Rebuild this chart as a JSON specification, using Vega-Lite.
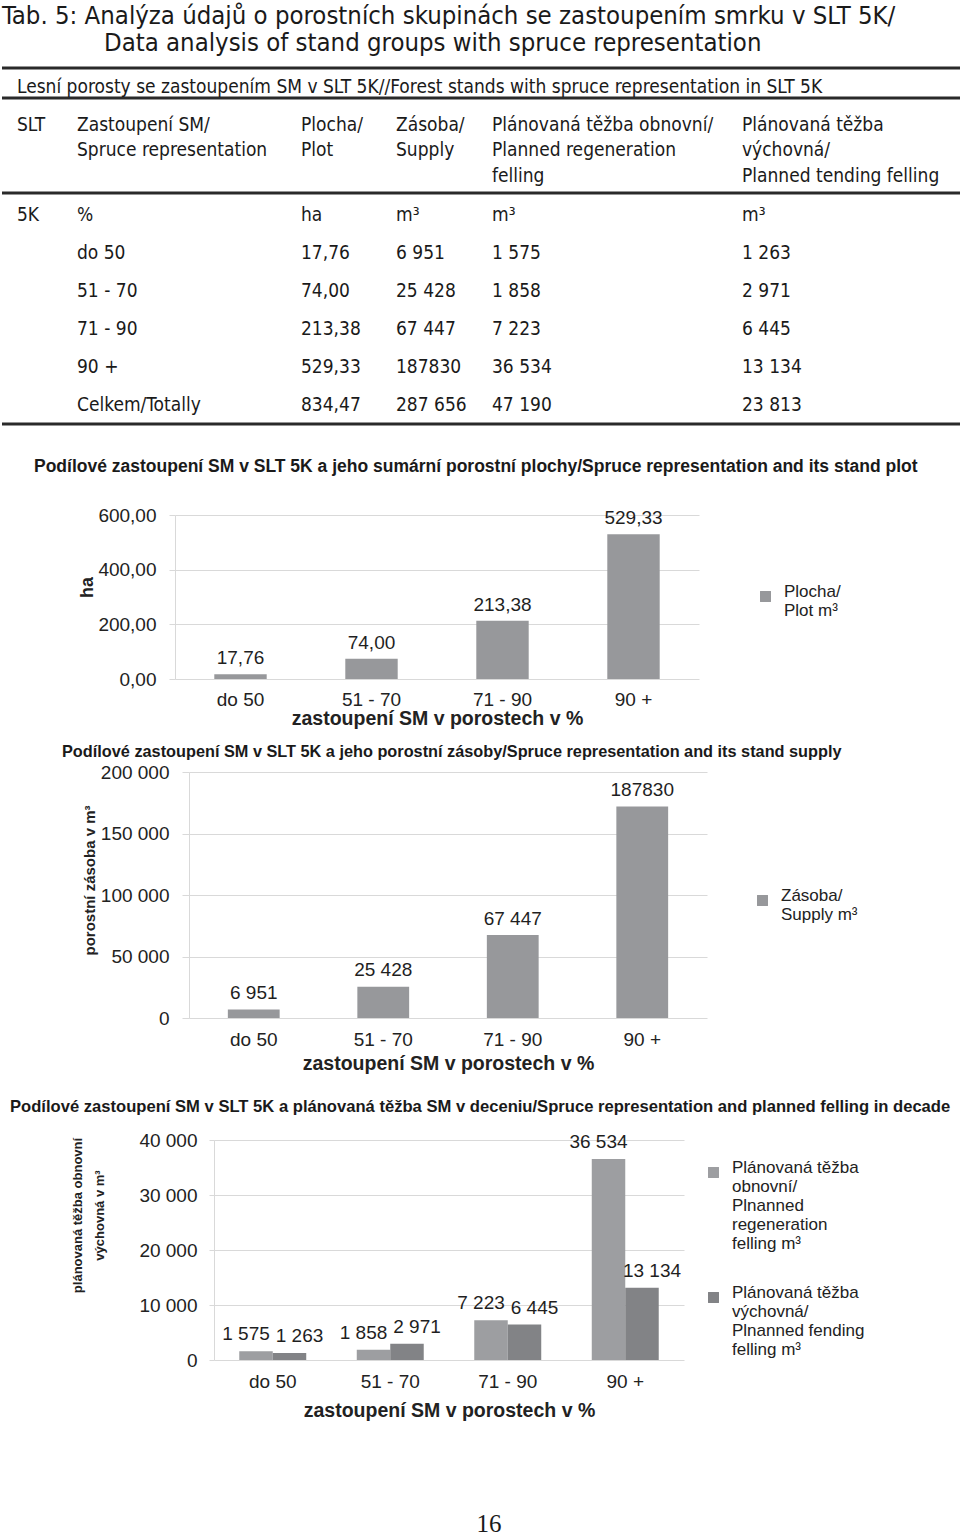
{
  "$schema": "https://vega.github.io/schema/vega-lite/v6.json",
  "padding": {"left": 0, "top": 0, "right": 0, "bottom": 0},
  "spacing": 0,
  "resolve": {"scale": {"color": "independent"}, "legend": {"color": "independent"}},
  "title": {"text": "16", "orient": "bottom", "anchor": "middle", "font": "Liberation Serif", "fontSize": 25, "fontWeight": "normal", "color": "#1a1a1a", "offset": 92, "dx": 7},
  "datasets": {
    "rules": [{"line": 3}, {"line": 5}, {"line": 9}, {"line": 16}],
    "pagetitle": [
      {"line": 1, "col": 0, "text": "Tab. 5: Analýza údajů o porostních skupinách se zastoupením smrku v SLT 5K/"},
      {"line": 2, "col": 2.5, "text": "Data analysis of stand groups with spruce representation"}
    ],
    "subtitle": [{"line": 4, "col": 1, "text": "Lesní porosty se zastoupením SM v SLT 5K//Forest stands with spruce representation in SLT 5K"}],
    "cells": [
      {"line": 6, "col": 1, "text": "SLT"},
      {"line": 6, "col": 2, "text": "Zastoupení SM/"},
      {"line": 6, "col": 3, "text": "Plocha/"},
      {"line": 6, "col": 4, "text": "Zásoba/"},
      {"line": 6, "col": 5, "text": "Plánovaná těžba obnovní/"},
      {"line": 6, "col": 6, "text": "Plánovaná těžba"},
      {"line": 7, "col": 2, "text": "Spruce representation"},
      {"line": 7, "col": 3, "text": "Plot"},
      {"line": 7, "col": 4, "text": "Supply"},
      {"line": 7, "col": 5, "text": "Planned regeneration"},
      {"line": 7, "col": 6, "text": "výchovná/"},
      {"line": 8, "col": 5, "text": "felling"},
      {"line": 8, "col": 6, "text": "Planned tending felling"},
      {"line": 10, "col": 1, "text": "5K"},
      {"line": 10, "col": 2, "text": "%"},
      {"line": 10, "col": 3, "text": "ha"},
      {"line": 10, "col": 4, "text": "m³"},
      {"line": 10, "col": 5, "text": "m³"},
      {"line": 10, "col": 6, "text": "m³"},
      {"line": 11, "col": 2, "text": "do 50"},
      {"line": 11, "col": 3, "text": "17,76"},
      {"line": 11, "col": 4, "text": "6 951"},
      {"line": 11, "col": 5, "text": "1 575"},
      {"line": 11, "col": 6, "text": "1 263"},
      {"line": 12, "col": 2, "text": "51 - 70"},
      {"line": 12, "col": 3, "text": "74,00"},
      {"line": 12, "col": 4, "text": "25 428"},
      {"line": 12, "col": 5, "text": "1 858"},
      {"line": 12, "col": 6, "text": "2 971"},
      {"line": 13, "col": 2, "text": "71 - 90"},
      {"line": 13, "col": 3, "text": "213,38"},
      {"line": 13, "col": 4, "text": "67 447"},
      {"line": 13, "col": 5, "text": "7 223"},
      {"line": 13, "col": 6, "text": "6 445"},
      {"line": 14, "col": 2, "text": "90 +"},
      {"line": 14, "col": 3, "text": "529,33"},
      {"line": 14, "col": 4, "text": "187830"},
      {"line": 14, "col": 5, "text": "36 534"},
      {"line": 14, "col": 6, "text": "13 134"},
      {"line": 15, "col": 2, "text": "Celkem/Totally"},
      {"line": 15, "col": 3, "text": "834,47"},
      {"line": 15, "col": 4, "text": "287 656"},
      {"line": 15, "col": 5, "text": "47 190"},
      {"line": 15, "col": 6, "text": "23 813"}
    ],
    "plot": [
      {"cat": "do 50", "value": 17.76, "label": "17,76", "series": "Plocha/|Plot m³"},
      {"cat": "51 - 70", "value": 74.0, "label": "74,00", "series": "Plocha/|Plot m³"},
      {"cat": "71 - 90", "value": 213.38, "label": "213,38", "series": "Plocha/|Plot m³"},
      {"cat": "90 +", "value": 529.33, "label": "529,33", "series": "Plocha/|Plot m³"}
    ],
    "supply": [
      {"cat": "do 50", "value": 6951, "label": "6 951", "series": "Zásoba/|Supply m³"},
      {"cat": "51 - 70", "value": 25428, "label": "25 428", "series": "Zásoba/|Supply m³"},
      {"cat": "71 - 90", "value": 67447, "label": "67 447", "series": "Zásoba/|Supply m³"},
      {"cat": "90 +", "value": 172000, "label": "187830", "series": "Zásoba/|Supply m³"}
    ],
    "felling": [
      {"cat": "do 50", "series": "Plánovaná těžba|obnovní/|Plnanned|regeneration|felling m³", "value": 1575, "label": "1 575"},
      {"cat": "do 50", "series": "Plánovaná těžba|výchovná/|Plnanned fending|felling m³", "value": 1263, "label": "1 263"},
      {"cat": "51 - 70", "series": "Plánovaná těžba|obnovní/|Plnanned|regeneration|felling m³", "value": 1858, "label": "1 858"},
      {"cat": "51 - 70", "series": "Plánovaná těžba|výchovná/|Plnanned fending|felling m³", "value": 2971, "label": "2 971"},
      {"cat": "71 - 90", "series": "Plánovaná těžba|obnovní/|Plnanned|regeneration|felling m³", "value": 7223, "label": "7 223"},
      {"cat": "71 - 90", "series": "Plánovaná těžba|výchovná/|Plnanned fending|felling m³", "value": 6445, "label": "6 445"},
      {"cat": "90 +", "series": "Plánovaná těžba|obnovní/|Plnanned|regeneration|felling m³", "value": 36534, "label": "36 534"},
      {"cat": "90 +", "series": "Plánovaná těžba|výchovná/|Plnanned fending|felling m³", "value": 13134, "label": "13 134"}
    ]
  },
  "vconcat": [
    {
      "width": 960,
      "height": 457,
      "encoding": {
        "y": {"field": "line", "type": "quantitative", "axis": null,
          "scale": {"domain": [1, 2, 3, 4, 5, 6, 7, 8, 9, 10, 11, 12, 13, 14, 15, 16], "range": [16, 43, 68, 87, 98, 125, 150, 176, 193, 215, 253, 291, 329, 367, 405, 424], "nice": false, "zero": false}}
      },
      "layer": [
        {
          "data": {"name": "rules"},
          "mark": {"type": "rule", "strokeWidth": 3, "color": "#2a2a2a"},
          "encoding": {}
        },
        {
          "data": {"name": "pagetitle"},
          "mark": {"type": "text", "align": "left", "baseline": "middle", "font": "DejaVu Sans Condensed, DejaVu Sans", "fontSize": 25.5, "color": "#1a1a1a"},
          "encoding": {
            "x": {"field": "col", "type": "quantitative", "axis": null, "scale": {"domain": [0, 1, 2, 2.5, 3, 4, 5, 6], "range": [0, 15, 75, 102, 299, 394, 490, 740], "nice": false, "zero": false}},
            "text": {"field": "text"}
          }
        },
        {
          "data": {"name": "subtitle"},
          "mark": {"type": "text", "align": "left", "baseline": "middle", "font": "DejaVu Sans Condensed, DejaVu Sans", "fontSize": 19, "color": "#1a1a1a"},
          "encoding": {
            "x": {"field": "col", "type": "quantitative", "axis": null},
            "text": {"field": "text"}
          }
        },
        {
          "data": {"name": "cells"},
          "mark": {"type": "text", "align": "left", "baseline": "middle", "font": "DejaVu Sans Condensed, DejaVu Sans", "fontSize": 19, "color": "#1a1a1a"},
          "encoding": {
            "x": {"field": "col", "type": "quantitative", "axis": null},
            "text": {"field": "text"}
          }
        }
      ]
    },
    {
      "spacing": 0,
      "hconcat": [
        {"width": 32, "height": 228, "data": {"values": []}, "mark": "point"},
        {
          "width": 524,
          "height": 164,
          "title": {"text": "Podílové zastoupení SM v SLT 5K a jeho sumární porostní plochy/Spruce representation and its stand plot", "anchor": "start", "frame": "group", "dx": -141, "fontSize": 17.5, "offset": 31},
          "data": {"name": "plot"},
          "encoding": {
            "x": {"field": "cat", "type": "nominal", "sort": null, "scale": {"paddingInner": 0.6, "paddingOuter": 0.3},
              "axis": {"title": "zastoupení SM v porostech v %", "labelAngle": 0, "ticks": false, "tickSize": 0, "domain": false, "labelPadding": 11, "titleY": 39, "titleBaseline": "middle"}}
          },
          "layer": [
            {
              "mark": {"type": "bar"},
              "encoding": {
                "y": {"field": "value", "type": "quantitative", "scale": {"domain": [0, 600], "nice": false},
                  "axis": {"values": [0, 200, 400, 600], "format": ".2f", "title": "ha", "titleX": -88, "titleY": 72, "titleBaseline": "middle", "titleFontSize": 18, "labelPadding": 13, "tickSize": 6}},
                "color": {"field": "series", "type": "nominal", "scale": {"range": ["#97989b"]},
                  "legend": {"orient": "none", "legendX": 755, "legendY": 73, "title": null, "labelExpr": "split(datum.label, '|')"}}
              }
            },
            {
              "mark": {"type": "text", "dy": -16, "baseline": "middle", "fontSize": 19, "color": "#1f1f1f"},
              "encoding": {
                "y": {"field": "value", "type": "quantitative"},
                "text": {"field": "label"}
              }
            }
          ]
        }
      ]
    },
    {
      "spacing": 0,
      "hconcat": [
        {"width": 60, "height": 327, "data": {"values": []}, "mark": "point"},
        {
          "width": 518,
          "height": 246,
          "title": {"text": "Podílové zastoupení SM v SLT 5K a jeho porostní zásoby/Spruce representation and its stand supply", "anchor": "start", "frame": "group", "dx": -127, "fontSize": 16.3, "offset": 3},
          "data": {"name": "supply"},
          "encoding": {
            "x": {"field": "cat", "type": "nominal", "sort": null, "scale": {"paddingInner": 0.6, "paddingOuter": 0.3},
              "axis": {"title": "zastoupení SM v porostech v %", "labelAngle": 0, "ticks": false, "tickSize": 0, "domain": false, "labelPadding": 12.5, "titleY": 45, "titleBaseline": "middle"}}
          },
          "layer": [
            {
              "mark": {"type": "bar"},
              "encoding": {
                "y": {"field": "value", "type": "quantitative", "scale": {"domain": [0, 200000], "nice": false},
                  "axis": {"values": [0, 50000, 100000, 150000, 200000], "format": ",.0f", "title": "porostní zásoba v m³", "titleX": -100, "titleY": 108, "titleBaseline": "middle", "titleFontSize": 15, "labelPadding": 13, "tickSize": 7}},
                "color": {"field": "series", "type": "nominal", "scale": {"range": ["#97989b"]},
                  "legend": {"orient": "none", "legendX": 752, "legendY": 120, "title": null, "labelExpr": "split(datum.label, '|')"}}
              }
            },
            {
              "mark": {"type": "text", "dy": -16.5, "baseline": "middle", "fontSize": 19, "color": "#1f1f1f"},
              "encoding": {
                "y": {"field": "value", "type": "quantitative"},
                "text": {"field": "label"}
              }
            }
          ]
        }
      ]
    },
    {
      "spacing": 0,
      "hconcat": [
        {"width": 8, "height": 1, "data": {"values": []}, "mark": "point"},
        {
          "width": 470,
          "height": 220,
          "title": {"text": "Podílové zastoupení SM v SLT 5K a plánovaná těžba SM v deceniu/Spruce representation and planned felling in decade", "anchor": "start", "frame": "group", "dx": -204, "fontSize": 16.6, "offset": 15},
          "data": {"name": "felling"},
          "encoding": {
            "x": {"field": "cat", "type": "nominal", "sort": null, "scale": {"paddingInner": 0.43, "paddingOuter": 0.215},
              "axis": {"title": "zastoupení SM v porostech v %", "labelAngle": 0, "ticks": false, "tickSize": 0, "domain": false, "labelPadding": 12.5, "titleY": 50, "titleBaseline": "middle"}},
            "xOffset": {"field": "series", "type": "nominal", "sort": null, "scale": {"paddingInner": 0, "paddingOuter": 0}},
            "y": {"field": "value", "type": "quantitative", "scale": {"domain": [0, 40000], "nice": false},
              "axis": {"values": [0, 10000, 20000, 30000, 40000], "format": ",.0f", "title": ["plánovaná těžba obnovní", "výchovná v m³"], "titleX": -137, "titleY": 75, "titleBaseline": "middle", "titleLineHeight": 22, "titleFontSize": 13, "labelPadding": 12, "tickSize": 5}}
          },
          "layer": [
            {
              "mark": {"type": "bar"},
              "encoding": {
                "color": {"field": "series", "type": "nominal", "sort": null,
                  "scale": {"domain": ["Plánovaná těžba|obnovní/|Plnanned|regeneration|felling m³", "Plánovaná těžba|výchovná/|Plnanned fending|felling m³"], "range": ["#9d9ea1", "#828386"]},
                  "legend": {"orient": "none", "legendX": 703, "legendY": 24, "title": null, "labelExpr": "split(datum.label, '|')", "rowPadding": 31}}
              }
            },
            {
              "transform": [{"filter": "datum.series == 'Plánovaná těžba|obnovní/|Plnanned|regeneration|felling m³'"}],
              "mark": {"type": "text", "dy": -17, "dx": -10, "baseline": "middle", "fontSize": 19, "color": "#1f1f1f"},
              "encoding": {"text": {"field": "label"}}
            },
            {
              "transform": [{"filter": "datum.series == 'Plánovaná těžba|výchovná/|Plnanned fending|felling m³'"}],
              "mark": {"type": "text", "dy": -17, "dx": 10, "baseline": "middle", "fontSize": 19, "color": "#1f1f1f"},
              "encoding": {"text": {"field": "label"}}
            }
          ]
        }
      ]
    }
  ],
  "config": {
    "view": {"stroke": null},
    "concat": {"spacing": 0},
    "font": "Liberation Sans",
    "locale": {"number": {"decimal": ",", "thousands": " ", "grouping": [3], "currency": ["", ""]}},
    "title": {"font": "Liberation Sans", "fontWeight": "bold", "color": "#1a1a1a"},
    "axis": {
      "labelFont": "Liberation Sans", "labelFontSize": 19, "labelColor": "#222222",
      "titleFont": "Liberation Sans", "titleFontSize": 19.5, "titleFontWeight": "bold", "titleColor": "#222222",
      "gridColor": "#d9d9d9", "domainColor": "#d9d9d9", "tickColor": "#d9d9d9"
    },
    "axisX": {"grid": false},
    "legend": {"labelFont": "Liberation Sans", "labelFontSize": 17, "labelColor": "#222222", "symbolType": "square", "symbolSize": 120, "symbolStrokeWidth": 0, "labelBaseline": "alphabetic", "labelLimit": 300, "labelOffset": 10}
  }
}
